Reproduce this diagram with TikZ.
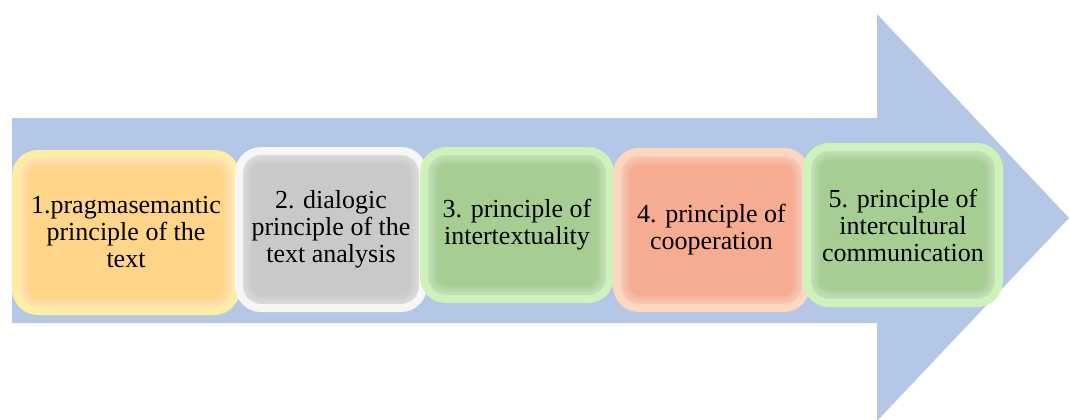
\documentclass[tikz,border=0pt]{standalone}
\usepackage{fontspec}
\setmainfont{Liberation Serif}
\definecolor{arrowblue}{RGB}{180,199,231}
\definecolor{yelmain}{RGB}{255,213,138}
\definecolor{yelrim}{RGB}{255,236,165}
\definecolor{graymain}{RGB}{201,201,201}
\definecolor{grayrim}{RGB}{246,246,246}
\definecolor{grnmain}{RGB}{166,206,146}
\definecolor{grnrim}{RGB}{205,242,186}
\definecolor{salmain}{RGB}{246,172,145}
\definecolor{salrim}{RGB}{255,214,190}
\tikzset{
  glowbox/.style 2 args={draw=#2, fill=#1, line width=8pt, rounded corners=22pt,
    inner sep=0pt, align=center, font=\fontsize{26}{27}\selectfont, text=black,
    path picture={
      \foreach \i in {1,...,6}
        \draw[white, opacity=0.07, line width={8pt+3pt*\i}, rounded corners=22pt]
          (path picture bounding box.south west) rectangle (path picture bounding box.north east);
    }},
}
\begin{document}
\begin{tikzpicture}[x=1pt,y=-1pt]
\useasboundingbox (0,0) rectangle (1069,420);
\fill[arrowblue] (12,118) -- (877,118) -- (877,14) -- (1069,218) -- (877,421) -- (877,323) -- (12,323) -- cycle;
\node[glowbox={yelmain}{yelrim}, minimum width=220pt, minimum height=157pt] (b1) at (126,232.5)
  {1.pragmasemantic\\principle of the\\text};
\node[glowbox={graymain}{grayrim}, minimum width=184pt, minimum height=157pt] (b2) at (331,229.5)
  {2. dialogic\\principle of the\\text analysis};
\node[glowbox={grnmain}{grnrim}, minimum width=186pt, minimum height=148pt] (b3) at (517,225)
  {3. principle of\\intertextuality};
\node[glowbox={salmain}{salrim}, minimum width=189pt, minimum height=156pt] (b4) at (711.5,230)
  {4. principle of\\cooperation};
\node[glowbox={grnmain}{grnrim}, minimum width=192pt, minimum height=156pt] (b5) at (903,225)
  {5. principle of\\intercultural\\communication};
\end{tikzpicture}
\end{document}
